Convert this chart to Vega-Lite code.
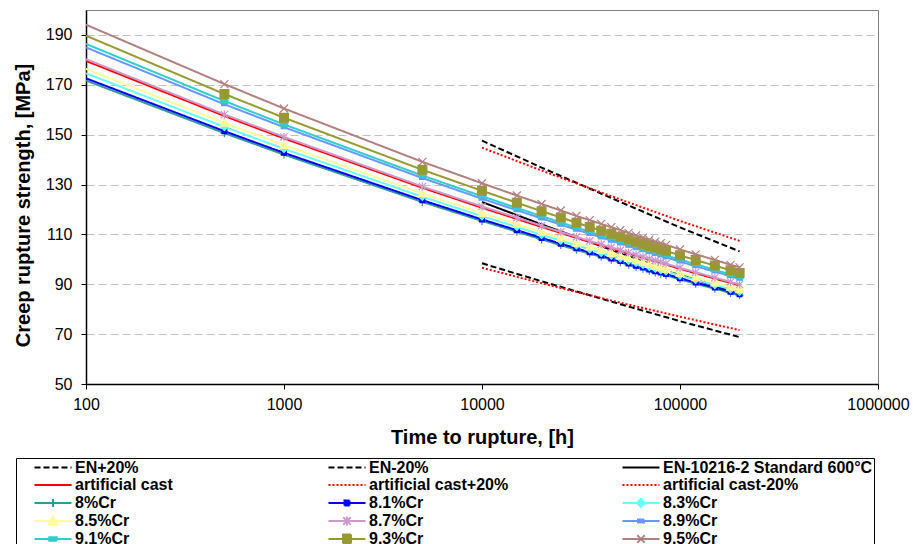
{
  "$schema": "https://vega.github.io/schema/vega-lite/v6.json",
  "autosize": "none",
  "padding": {"left": 86, "top": 10, "right": 35, "bottom": 160},
  "width": 792,
  "height": 374,
  "background": "white",
  "data": {"values": [
    {"s":"EN+20%","t":10000,"v":147.6},{"s":"EN+20%","t":20000,"v":136.8},{"s":"EN+20%","t":50000,"v":123.0},{"s":"EN+20%","t":100000,"v":112.8},{"s":"EN+20%","t":200000,"v":103.2},
    {"s":"EN-20%","t":10000,"v":98.4},{"s":"EN-20%","t":20000,"v":91.2},{"s":"EN-20%","t":50000,"v":82.0},{"s":"EN-20%","t":100000,"v":75.2},{"s":"EN-20%","t":200000,"v":68.8},
    {"s":"EN-10216-2 Standard 600°C","t":10000,"v":123.0},{"s":"EN-10216-2 Standard 600°C","t":20000,"v":114.0},{"s":"EN-10216-2 Standard 600°C","t":50000,"v":102.5},{"s":"EN-10216-2 Standard 600°C","t":100000,"v":94.0},{"s":"EN-10216-2 Standard 600°C","t":200000,"v":86.0},
    {"s":"artificial cast+20%","t":10000,"v":144.8},{"s":"artificial cast+20%","t":20000,"v":135.6},{"s":"artificial cast+20%","t":50000,"v":124.0},{"s":"artificial cast+20%","t":100000,"v":115.4},{"s":"artificial cast+20%","t":200000,"v":107.4},
    {"s":"artificial cast-20%","t":10000,"v":96.6},{"s":"artificial cast-20%","t":20000,"v":90.4},{"s":"artificial cast-20%","t":50000,"v":82.6},{"s":"artificial cast-20%","t":100000,"v":77.0},{"s":"artificial cast-20%","t":200000,"v":71.6},
    {"s":"artificial cast","t":100,"v":179.6},{"s":"artificial cast","t":500,"v":157.5},{"s":"artificial cast","t":1000,"v":148.5},{"s":"artificial cast","t":5000,"v":128.7},{"s":"artificial cast","t":10000,"v":120.7},{"s":"artificial cast","t":15000,"v":116.2},{"s":"artificial cast","t":20000,"v":113.0},{"s":"artificial cast","t":25000,"v":110.6},{"s":"artificial cast","t":30000,"v":108.6},{"s":"artificial cast","t":35000,"v":107.0},{"s":"artificial cast","t":40000,"v":105.6},{"s":"artificial cast","t":45000,"v":104.4},{"s":"artificial cast","t":50000,"v":103.3},{"s":"artificial cast","t":55000,"v":102.3},{"s":"artificial cast","t":60000,"v":101.4},{"s":"artificial cast","t":65000,"v":100.6},{"s":"artificial cast","t":70000,"v":99.8},{"s":"artificial cast","t":75000,"v":99.1},{"s":"artificial cast","t":80000,"v":98.5},{"s":"artificial cast","t":85000,"v":97.9},{"s":"artificial cast","t":100000,"v":96.2},{"s":"artificial cast","t":120000,"v":94.4},{"s":"artificial cast","t":150000,"v":92.3},{"s":"artificial cast","t":180000,"v":90.5},{"s":"artificial cast","t":200000,"v":89.5},
    {"s":"8%Cr","t":100,"v":171.7},{"s":"8%Cr","t":500,"v":150.6},{"s":"8%Cr","t":1000,"v":142.0},{"s":"8%Cr","t":5000,"v":123.0},{"s":"8%Cr","t":10000,"v":115.4},{"s":"8%Cr","t":15000,"v":111.1},{"s":"8%Cr","t":20000,"v":108.0},{"s":"8%Cr","t":25000,"v":105.7},{"s":"8%Cr","t":30000,"v":103.8},{"s":"8%Cr","t":35000,"v":102.3},{"s":"8%Cr","t":40000,"v":101.0},{"s":"8%Cr","t":45000,"v":99.8},{"s":"8%Cr","t":50000,"v":98.8},{"s":"8%Cr","t":55000,"v":97.8},{"s":"8%Cr","t":60000,"v":96.9},{"s":"8%Cr","t":65000,"v":96.2},{"s":"8%Cr","t":70000,"v":95.4},{"s":"8%Cr","t":75000,"v":94.7},{"s":"8%Cr","t":80000,"v":94.2},{"s":"8%Cr","t":85000,"v":93.6},{"s":"8%Cr","t":100000,"v":92.0},{"s":"8%Cr","t":120000,"v":90.2},{"s":"8%Cr","t":150000,"v":88.2},{"s":"8%Cr","t":180000,"v":86.5},{"s":"8%Cr","t":200000,"v":85.6},
    {"s":"8.1%Cr","t":100,"v":172.6},{"s":"8.1%Cr","t":500,"v":151.4},{"s":"8.1%Cr","t":1000,"v":142.7},{"s":"8.1%Cr","t":5000,"v":123.7},{"s":"8.1%Cr","t":10000,"v":116.0},{"s":"8.1%Cr","t":15000,"v":111.7},{"s":"8.1%Cr","t":20000,"v":108.6},{"s":"8.1%Cr","t":25000,"v":106.3},{"s":"8.1%Cr","t":30000,"v":104.4},{"s":"8.1%Cr","t":35000,"v":102.8},{"s":"8.1%Cr","t":40000,"v":101.5},{"s":"8.1%Cr","t":45000,"v":100.3},{"s":"8.1%Cr","t":50000,"v":99.3},{"s":"8.1%Cr","t":55000,"v":98.3},{"s":"8.1%Cr","t":60000,"v":97.4},{"s":"8.1%Cr","t":65000,"v":96.7},{"s":"8.1%Cr","t":70000,"v":95.9},{"s":"8.1%Cr","t":75000,"v":95.2},{"s":"8.1%Cr","t":80000,"v":94.7},{"s":"8.1%Cr","t":85000,"v":94.1},{"s":"8.1%Cr","t":100000,"v":92.4},{"s":"8.1%Cr","t":120000,"v":90.7},{"s":"8.1%Cr","t":150000,"v":88.7},{"s":"8.1%Cr","t":180000,"v":87.0},{"s":"8.1%Cr","t":200000,"v":86.0},
    {"s":"8.3%Cr","t":100,"v":174.6},{"s":"8.3%Cr","t":500,"v":153.1},{"s":"8.3%Cr","t":1000,"v":144.3},{"s":"8.3%Cr","t":5000,"v":125.1},{"s":"8.3%Cr","t":10000,"v":117.3},{"s":"8.3%Cr","t":15000,"v":113.0},{"s":"8.3%Cr","t":20000,"v":109.8},{"s":"8.3%Cr","t":25000,"v":107.5},{"s":"8.3%Cr","t":30000,"v":105.6},{"s":"8.3%Cr","t":35000,"v":104.0},{"s":"8.3%Cr","t":40000,"v":102.6},{"s":"8.3%Cr","t":45000,"v":101.5},{"s":"8.3%Cr","t":50000,"v":100.4},{"s":"8.3%Cr","t":55000,"v":99.4},{"s":"8.3%Cr","t":60000,"v":98.6},{"s":"8.3%Cr","t":65000,"v":97.8},{"s":"8.3%Cr","t":70000,"v":97.0},{"s":"8.3%Cr","t":75000,"v":96.3},{"s":"8.3%Cr","t":80000,"v":95.7},{"s":"8.3%Cr","t":85000,"v":95.2},{"s":"8.3%Cr","t":100000,"v":93.5},{"s":"8.3%Cr","t":120000,"v":91.8},{"s":"8.3%Cr","t":150000,"v":89.7},{"s":"8.3%Cr","t":180000,"v":88.0},{"s":"8.3%Cr","t":200000,"v":87.0},
    {"s":"8.5%Cr","t":100,"v":176.4},{"s":"8.5%Cr","t":500,"v":154.7},{"s":"8.5%Cr","t":1000,"v":145.8},{"s":"8.5%Cr","t":5000,"v":126.4},{"s":"8.5%Cr","t":10000,"v":118.5},{"s":"8.5%Cr","t":15000,"v":114.1},{"s":"8.5%Cr","t":20000,"v":111.0},{"s":"8.5%Cr","t":25000,"v":108.6},{"s":"8.5%Cr","t":30000,"v":106.6},{"s":"8.5%Cr","t":35000,"v":105.1},{"s":"8.5%Cr","t":40000,"v":103.7},{"s":"8.5%Cr","t":45000,"v":102.5},{"s":"8.5%Cr","t":50000,"v":101.4},{"s":"8.5%Cr","t":55000,"v":100.5},{"s":"8.5%Cr","t":60000,"v":99.6},{"s":"8.5%Cr","t":65000,"v":98.8},{"s":"8.5%Cr","t":70000,"v":98.0},{"s":"8.5%Cr","t":75000,"v":97.3},{"s":"8.5%Cr","t":80000,"v":96.7},{"s":"8.5%Cr","t":85000,"v":96.1},{"s":"8.5%Cr","t":100000,"v":94.5},{"s":"8.5%Cr","t":120000,"v":92.7},{"s":"8.5%Cr","t":150000,"v":90.6},{"s":"8.5%Cr","t":180000,"v":88.9},{"s":"8.5%Cr","t":200000,"v":87.9},
    {"s":"8.7%Cr","t":100,"v":180.3},{"s":"8.7%Cr","t":500,"v":158.1},{"s":"8.7%Cr","t":1000,"v":149.1},{"s":"8.7%Cr","t":5000,"v":129.2},{"s":"8.7%Cr","t":10000,"v":121.2},{"s":"8.7%Cr","t":15000,"v":116.7},{"s":"8.7%Cr","t":20000,"v":113.5},{"s":"8.7%Cr","t":25000,"v":111.0},{"s":"8.7%Cr","t":30000,"v":109.0},{"s":"8.7%Cr","t":35000,"v":107.4},{"s":"8.7%Cr","t":40000,"v":106.0},{"s":"8.7%Cr","t":45000,"v":104.8},{"s":"8.7%Cr","t":50000,"v":103.7},{"s":"8.7%Cr","t":55000,"v":102.7},{"s":"8.7%Cr","t":60000,"v":101.8},{"s":"8.7%Cr","t":65000,"v":101.0},{"s":"8.7%Cr","t":70000,"v":100.2},{"s":"8.7%Cr","t":75000,"v":99.5},{"s":"8.7%Cr","t":80000,"v":98.9},{"s":"8.7%Cr","t":85000,"v":98.3},{"s":"8.7%Cr","t":100000,"v":96.6},{"s":"8.7%Cr","t":120000,"v":94.8},{"s":"8.7%Cr","t":150000,"v":92.7},{"s":"8.7%Cr","t":180000,"v":90.9},{"s":"8.7%Cr","t":200000,"v":89.9},
    {"s":"8.9%Cr","t":100,"v":185.0},{"s":"8.9%Cr","t":500,"v":162.2},{"s":"8.9%Cr","t":1000,"v":153.0},{"s":"8.9%Cr","t":5000,"v":132.6},{"s":"8.9%Cr","t":10000,"v":124.3},{"s":"8.9%Cr","t":15000,"v":119.7},{"s":"8.9%Cr","t":20000,"v":116.4},{"s":"8.9%Cr","t":25000,"v":113.9},{"s":"8.9%Cr","t":30000,"v":111.9},{"s":"8.9%Cr","t":35000,"v":110.2},{"s":"8.9%Cr","t":40000,"v":108.8},{"s":"8.9%Cr","t":45000,"v":107.5},{"s":"8.9%Cr","t":50000,"v":106.4},{"s":"8.9%Cr","t":55000,"v":105.4},{"s":"8.9%Cr","t":60000,"v":104.4},{"s":"8.9%Cr","t":65000,"v":103.6},{"s":"8.9%Cr","t":70000,"v":102.8},{"s":"8.9%Cr","t":75000,"v":102.1},{"s":"8.9%Cr","t":80000,"v":101.5},{"s":"8.9%Cr","t":85000,"v":100.8},{"s":"8.9%Cr","t":100000,"v":99.1},{"s":"8.9%Cr","t":120000,"v":97.2},{"s":"8.9%Cr","t":150000,"v":95.1},{"s":"8.9%Cr","t":180000,"v":93.2},{"s":"8.9%Cr","t":200000,"v":92.2},
    {"s":"9.1%Cr","t":100,"v":186.4},{"s":"9.1%Cr","t":500,"v":163.5},{"s":"9.1%Cr","t":1000,"v":154.1},{"s":"9.1%Cr","t":5000,"v":133.6},{"s":"9.1%Cr","t":10000,"v":125.3},{"s":"9.1%Cr","t":15000,"v":120.6},{"s":"9.1%Cr","t":20000,"v":117.3},{"s":"9.1%Cr","t":25000,"v":114.8},{"s":"9.1%Cr","t":30000,"v":112.7},{"s":"9.1%Cr","t":35000,"v":111.1},{"s":"9.1%Cr","t":40000,"v":109.6},{"s":"9.1%Cr","t":45000,"v":108.4},{"s":"9.1%Cr","t":50000,"v":107.2},{"s":"9.1%Cr","t":55000,"v":106.2},{"s":"9.1%Cr","t":60000,"v":105.3},{"s":"9.1%Cr","t":65000,"v":104.4},{"s":"9.1%Cr","t":70000,"v":103.6},{"s":"9.1%Cr","t":75000,"v":102.9},{"s":"9.1%Cr","t":80000,"v":102.2},{"s":"9.1%Cr","t":85000,"v":101.6},{"s":"9.1%Cr","t":100000,"v":99.9},{"s":"9.1%Cr","t":120000,"v":98.0},{"s":"9.1%Cr","t":150000,"v":95.8},{"s":"9.1%Cr","t":180000,"v":93.9},{"s":"9.1%Cr","t":200000,"v":92.9},
    {"s":"9.3%Cr","t":100,"v":189.7},{"s":"9.3%Cr","t":500,"v":166.3},{"s":"9.3%Cr","t":1000,"v":156.8},{"s":"9.3%Cr","t":5000,"v":135.9},{"s":"9.3%Cr","t":10000,"v":127.5},{"s":"9.3%Cr","t":15000,"v":122.7},{"s":"9.3%Cr","t":20000,"v":119.3},{"s":"9.3%Cr","t":25000,"v":116.8},{"s":"9.3%Cr","t":30000,"v":114.7},{"s":"9.3%Cr","t":35000,"v":113.0},{"s":"9.3%Cr","t":40000,"v":111.5},{"s":"9.3%Cr","t":45000,"v":110.3},{"s":"9.3%Cr","t":50000,"v":109.1},{"s":"9.3%Cr","t":55000,"v":108.0},{"s":"9.3%Cr","t":60000,"v":107.1},{"s":"9.3%Cr","t":65000,"v":106.2},{"s":"9.3%Cr","t":70000,"v":105.4},{"s":"9.3%Cr","t":75000,"v":104.7},{"s":"9.3%Cr","t":80000,"v":104.0},{"s":"9.3%Cr","t":85000,"v":103.4},{"s":"9.3%Cr","t":100000,"v":101.6},{"s":"9.3%Cr","t":120000,"v":99.7},{"s":"9.3%Cr","t":150000,"v":97.5},{"s":"9.3%Cr","t":180000,"v":95.6},{"s":"9.3%Cr","t":200000,"v":94.5},
    {"s":"9.5%Cr","t":100,"v":194.1},{"s":"9.5%Cr","t":500,"v":170.3},{"s":"9.5%Cr","t":1000,"v":160.5},{"s":"9.5%Cr","t":5000,"v":139.1},{"s":"9.5%Cr","t":10000,"v":130.5},{"s":"9.5%Cr","t":15000,"v":125.6},{"s":"9.5%Cr","t":20000,"v":122.2},{"s":"9.5%Cr","t":25000,"v":119.6},{"s":"9.5%Cr","t":30000,"v":117.4},{"s":"9.5%Cr","t":35000,"v":115.7},{"s":"9.5%Cr","t":40000,"v":114.2},{"s":"9.5%Cr","t":45000,"v":112.9},{"s":"9.5%Cr","t":50000,"v":111.7},{"s":"9.5%Cr","t":55000,"v":110.6},{"s":"9.5%Cr","t":60000,"v":109.6},{"s":"9.5%Cr","t":65000,"v":108.7},{"s":"9.5%Cr","t":70000,"v":107.9},{"s":"9.5%Cr","t":75000,"v":107.1},{"s":"9.5%Cr","t":80000,"v":106.5},{"s":"9.5%Cr","t":85000,"v":105.8},{"s":"9.5%Cr","t":100000,"v":104.0},{"s":"9.5%Cr","t":120000,"v":102.0},{"s":"9.5%Cr","t":150000,"v":99.8},{"s":"9.5%Cr","t":180000,"v":97.8},{"s":"9.5%Cr","t":200000,"v":96.8}
  ]},
  "encoding": {
    "x": {"field": "t", "type": "quantitative",
      "scale": {"type": "log", "domain": [100, 1000000], "nice": false},
      "axis": {"values": [100, 1000, 10000, 100000, 1000000], "format": "d", "grid": false, "labelFlush": false, "labelOverlap": false, "labelPadding": 7, "title": "Time to rupture, [h]", "titlePadding": 15}},
    "y": {"field": "v", "type": "quantitative",
      "scale": {"domain": [50, 200], "nice": false, "zero": false},
      "axis": {"values": [50, 70, 90, 110, 130, 150, 170, 190], "grid": true, "gridDash": [8, 4], "gridColor": "#c0c0c0", "gridWidth": 1, "labelPadding": 9, "title": "Creep rupture strength, [MPa]", "titlePadding": 12, "titleY": 195}},
    "color": {"field": "s", "type": "nominal",
      "scale": {
        "domain": ["EN+20%", "EN-20%", "EN-10216-2 Standard 600°C", "artificial cast", "artificial cast+20%", "artificial cast-20%", "8%Cr", "8.1%Cr", "8.3%Cr", "8.5%Cr", "8.7%Cr", "8.9%Cr", "9.1%Cr", "9.3%Cr", "9.5%Cr"],
        "range": ["#000000", "#000000", "#000000", "#ff0000", "#ff0000", "#ff0000", "#339999", "#0000ff", "#66ffff", "#ffff99", "#cc99cc", "#6699ff", "#33cccc", "#999933", "#b38080"]},
      "legend": {
        "orient": "none", "legendX": -70, "legendY": 448, "columns": 3, "direction": "horizontal", "title": null,
        "gridAlign": "all", "columnPadding": 26, "rowPadding": 0, "padding": 1,
        "strokeColor": "#000000", "fillColor": "white",
        "symbolSize": 100, "symbolOffset": 28, "labelOffset": 14, "labelLimit": 400,
        "labelFont": "Liberation Sans Narrow, Arial Narrow, Liberation Sans", "labelFontSize": 16, "labelFontWeight": "bold", "labelColor": "#000000",
        "encode": {"symbols": {"update": {
          "shape": {"signal": "['M-3.7,0H3.7','M-3.7,0H3.7','M-3.7,0H3.7','M-3.7,0H3.7','M-3.7,0H3.7','M-3.7,0H3.7','M-3.7,0H3.7M0,-0.8V0.8','M-3.7,0H3.7M-0.5,-0.5H0.5V0.5H-0.5Z','M-3.7,0H3.7M0,-0.8L0.8,0L0,0.8L-0.8,0Z','M-3.7,0H3.7M0,-0.85L0.85,0.7H-0.85Z','M-3.7,0H3.7M-0.75,-0.75L0.75,0.75M-0.75,0.75L0.75,-0.75M0,-0.9V0.9','M-3.7,0H3.7M-0.6,-0.28H0.6V0.28H-0.6Z','M-3.7,0H3.7M-0.75,-0.35H0.75V0.35H-0.75Z','M-3.7,0H3.7M-0.8,-0.9H0.8V0.9H-0.8Z','M-3.7,0H3.7M-0.75,-0.75L0.75,0.75M-0.75,0.75L0.75,-0.75'][datum.index]"},
          "stroke": {"scale": "color", "field": "value"},
          "fill": {"scale": "color", "field": "value"},
          "opacity": {"value": 1},
          "fillOpacity": {"value": 1},
          "strokeOpacity": {"value": 1},
          "strokeDash": {"signal": "datum.index < 2 ? [5,2] : (datum.index == 4 || datum.index == 5) ? [1.5,1.5] : [1,0]"},
          "strokeWidth": {"signal": "datum.index < 2 ? 2 : datum.index == 2 ? 2.5 : datum.index == 3 ? 3 : 1.5"}
        }}}
      }}
  },
  "layer": [
    {
      "mark": {"type": "line", "clip": true},
      "encoding": {
        "strokeDash": {"field": "s", "type": "nominal", "legend": null,
          "scale": {"domain": ["EN+20%", "EN-20%", "EN-10216-2 Standard 600°C", "artificial cast", "artificial cast+20%", "artificial cast-20%", "8%Cr", "8.1%Cr", "8.3%Cr", "8.5%Cr", "8.7%Cr", "8.9%Cr", "9.1%Cr", "9.3%Cr", "9.5%Cr"],
            "range": [[6, 3], [6, 3], [1, 0], [1, 0], [2, 2], [2, 2], [1, 0], [1, 0], [1, 0], [1, 0], [1, 0], [1, 0], [1, 0], [1, 0], [1, 0]]}},
        "strokeWidth": {"field": "s", "type": "nominal", "legend": null,
          "scale": {"domain": ["EN+20%", "EN-20%", "EN-10216-2 Standard 600°C", "artificial cast", "artificial cast+20%", "artificial cast-20%", "8%Cr", "8.1%Cr", "8.3%Cr", "8.5%Cr", "8.7%Cr", "8.9%Cr", "9.1%Cr", "9.3%Cr", "9.5%Cr"],
            "range": [2, 2, 2.5, 3, 2, 2, 1.5, 1.5, 1.5, 1.5, 1.5, 1.5, 1.5, 1.5, 1.5]}}
      }
    },
    {
      "transform": [{"filter": "datum.t >= 500 && indexof(datum.s, 'Cr') >= 0"}],
      "mark": {"type": "point", "filled": true, "size": 64, "strokeWidth": 1.2, "opacity": 1},
      "encoding": {
        "shape": {"field": "s", "type": "nominal", "legend": null,
          "scale": {"domain": ["8%Cr", "8.1%Cr", "8.3%Cr", "8.5%Cr", "8.7%Cr", "8.9%Cr", "9.1%Cr", "9.3%Cr", "9.5%Cr"],
            "range": ["M-1,0H1M0,-1V1", "M-0.6,-0.6H0.6V0.6H-0.6Z", "M0,-0.9L0.9,0L0,0.9L-0.9,0Z", "M0,-1L1,0.8H-1Z", "M-0.9,-0.9L0.9,0.9M-0.9,0.9L0.9,-0.9M0,-1V1", "M-0.7,-0.35H0.7V0.35H-0.7Z", "M-0.9,-0.4H0.9V0.4H-0.9Z", "M-1.1,-1.1H1.1V1.1H-1.1Z", "M-1,-1L1,1M-1,1L1,-1"]}},
        "stroke": {"field": "s", "type": "nominal", "legend": null,
          "scale": {"domain": ["8%Cr", "8.1%Cr", "8.3%Cr", "8.5%Cr", "8.7%Cr", "8.9%Cr", "9.1%Cr", "9.3%Cr", "9.5%Cr"],
            "range": ["#339999", "#0000ff", "#66ffff", "#ffff99", "#cc99cc", "#6699ff", "#33cccc", "#999933", "#b38080"]}}
      }
    }
  ],
  "config": {
    "font": "Liberation Sans",
    "view": {"stroke": "#808080", "strokeWidth": 1},
    "axis": {
      "labelFont": "Liberation Sans", "labelFontSize": 16, "labelColor": "#000000",
      "titleFont": "Liberation Sans Narrow, Arial Narrow, Liberation Sans", "titleFontSize": 20, "titleFontWeight": "bold", "titleColor": "#000000",
      "domainColor": "#000000", "domainWidth": 1.5, "tickColor": "#000000", "tickSize": 5
    }
  }
}
